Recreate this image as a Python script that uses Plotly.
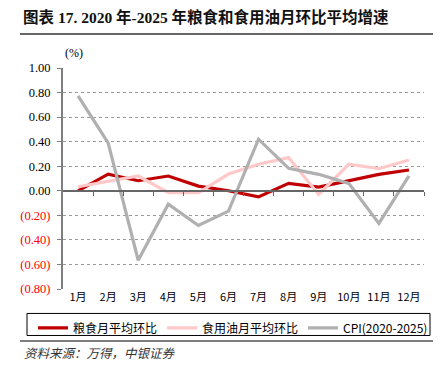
import plotly.graph_objects as go

months = ["1月", "2月", "3月", "4月", "5月", "6月", "7月", "8月", "9月", "10月", "11月", "12月"]
grain = [0.00, 0.136, 0.082, 0.12, 0.038, 0.00, -0.05, 0.06, 0.03, 0.082, 0.134, 0.169]
oil = [0.033, 0.074, 0.12, -0.016, -0.016, 0.136, 0.216, 0.27, -0.03, 0.216, 0.18, 0.25]
cpi = [0.773, 0.39, -0.566, -0.109, -0.283, -0.166, 0.42, 0.183, 0.134, 0.06, -0.266, 0.122]
y_ticks = [-0.8, -0.6, -0.4, -0.2, 0.0, 0.2, 0.4, 0.6, 0.8, 1.0]
series_names = ["粮食月平均环比", "食用油月平均环比", "CPI(2020-2025)"]
colors = ["#C00000", "#FFC9C9", "#B0B0B0"]

# page body has an 8px default margin; figure is sized to fill the rest of the window
OFF = 8
W, H = 442 - OFF, 368 - OFF
# plot area in window pixels: x 63..424, y 68..288.6
L, R, T, B = 63 - OFF, 442 - 424, 68 - OFF, 368 - 288.6
PW, PH = W - L - R, H - T - B
YMIN, YMAX = -0.8, 1.0


def px_x(x):
    return (x - OFF - L) / PW


def px_y(y):
    return (H - B - (y - OFF)) / PH


def fmt(v):
    if v < 0:
        return f"<span style='color:#FF0000'>({abs(v):.2f})</span>"
    return f"{v:.2f}"


fig = go.Figure()
for name, vals, c in zip(series_names, [grain, oil, cpi], colors):
    fig.add_trace(go.Scatter(x=months, y=vals, mode="lines", name=name,
                             line=dict(color=c, width=3.2)))
# carrier for the zero-line axis
fig.add_trace(go.Scatter(x=[None], y=[None], xaxis="x2", showlegend=False, hoverinfo="skip"))

fig.update_layout(
    width=W, height=H,
    margin=dict(l=L, r=R, t=T, b=B),
    plot_bgcolor="white", paper_bgcolor="white",
    font=dict(family="Noto Sans CJK SC", color="#000"),
    xaxis=dict(type="category", range=[-0.5, 11.5], showline=False, showgrid=False,
               ticks="", tickfont=dict(size=11, family="Noto Sans CJK SC"), zeroline=False),
    xaxis2=dict(overlaying="x", anchor="free", position=(0 - YMIN) / (YMAX - YMIN),
                range=[-0.5, 11.5], tickvals=[i + 0.5 for i in range(12)],
                ticks="outside", ticklen=4, tickcolor="#666", tickwidth=1,
                showline=True, linecolor="#666", linewidth=1.5,
                showticklabels=False, showgrid=False, zeroline=False),
    yaxis=dict(range=[YMIN, YMAX], tickvals=y_ticks, ticktext=[fmt(v) for v in y_ticks],
               showline=True, linecolor="#7f7f7f", linewidth=2,
               ticks="outside", ticklen=4, tickcolor="#7f7f7f",
               tickfont=dict(family="Liberation Serif", size=12.5),
               ticklabelstandoff=4,
               showgrid=True, gridcolor="#9a9a9a", griddash="dot", gridwidth=1,
               zeroline=False),
    legend=dict(orientation="h", x=px_x(33), y=px_y(313), xanchor="left", yanchor="top",
                font=dict(size=12, family="Noto Sans CJK SC"), bgcolor="rgba(0,0,0,0)",
                itemwidth=30, borderwidth=0),
    showlegend=True,
)

fig.add_shape(type="rect", xref="paper", yref="paper",
              x0=px_x(27), x1=px_x(430), y0=px_y(335), y1=px_y(313),
              line=dict(color="#000", width=1))
fig.add_shape(type="line", xref="paper", yref="paper",
              x0=px_x(20), x1=px_x(433), y0=px_y(34), y1=px_y(34),
              line=dict(color="#333", width=1.5))
fig.add_shape(type="line", xref="paper", yref="paper",
              x0=px_x(20), x1=px_x(433), y0=px_y(340.5), y1=px_y(340.5),
              line=dict(color="#555", width=1.5))

fig.add_annotation(text="<b>图表 17. 2020 年-2025 年粮食和食用油月环比平均增速</b>",
                   xref="paper", yref="paper", x=px_x(21), y=px_y(17),
                   xanchor="left", yanchor="middle", showarrow=False,
                   font=dict(family="Liberation Serif, Noto Sans CJK SC", size=15.5, color="#111"))
fig.add_annotation(text="(%)", xref="paper", yref="paper", x=px_x(74), y=px_y(53),
                   xanchor="center", yanchor="middle", showarrow=False,
                   font=dict(family="Liberation Serif", size=12, color="#000"))
fig.add_annotation(text="<i>资料来源：万得，中银证券</i>", xref="paper", yref="paper",
                   x=px_x(22), y=px_y(352), xanchor="left", yanchor="middle", showarrow=False,
                   font=dict(family="Noto Sans CJK SC", size=12.5, color="#333"))

fig.write_html("out.html")
